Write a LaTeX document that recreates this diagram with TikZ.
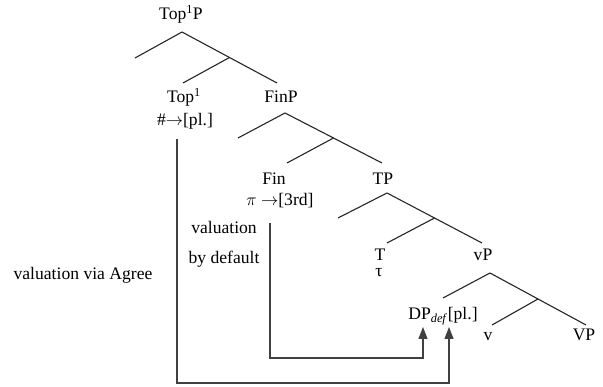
\documentclass[tikz,border=0pt]{standalone}
\usepackage{fontspec}
\setmainfont{Liberation Serif}
\usetikzlibrary{arrows.meta, positioning, calc}

\begin{document}
\begin{tikzpicture}[
  x=1pt, y=-1pt,
  every node/.style={font=\fontsize{17.6}{21}\selectfont, inner sep=0pt, anchor=base},
  branch/.style={line width=1.1pt, black!85},
  varr/.style={-{Triangle[length=12pt, width=9pt]}, line width=1.3pt, black!75},
  note/.style={align=center, font=\fontsize{17.6}{30}\selectfont},
]
\useasboundingbox (0,0) rectangle (603,387);

%% ── Top1P ─────────────────────────────────────────────────────────────
\node (toppP) at (181,20) {Top\textsuperscript{1}P};
\coordinate (topA) at (182,32);
\coordinate (topL) at (135,58);
\coordinate (topR) at (277,83);
\coordinate (topM) at ($(topA)!0.5!(topR)$);
\coordinate (topD) at (183,83);
\draw[branch] (topL) -- (topA) -- (topR);
\draw[branch] (topM) -- (topD);

\node (topone) at (184,103) {Top\textsuperscript{1}};
\node (plval)  at (185,126) {\#$\rightarrow$[pl.]};
\node (finP)   at (281,103) {FinP};

%% ── FinP ──────────────────────────────────────────────────────────────
\coordinate (finA) at (285,113);
\coordinate (finL) at (238,138);
\coordinate (finR) at (382,163);
\coordinate (finM) at ($(finA)!0.5!(finR)$);
\coordinate (finD) at (287,163);
\draw[branch] (finL) -- (finA) -- (finR);
\draw[branch] (finM) -- (finD);

\node (fin)   at (274,185) {Fin};
\node (pival) at (280,206) {$\pi$ $\rightarrow$[3rd]};
\node (tP)    at (383,185) {TP};

%% ── TP ────────────────────────────────────────────────────────────────
\coordinate (tpA) at (387,193);
\coordinate (tpL) at (338,218);
\coordinate (tpR) at (482,243);
\coordinate (tpM) at ($(tpA)!0.5!(tpR)$);
\coordinate (tpD) at (387,243);
\draw[branch] (tpL) -- (tpA) -- (tpR);
\draw[branch] (tpM) -- (tpD);

\node (tee) at (380,261) {T};
\node (tau) at (379,277) {τ};
\node (vP)  at (483,261) {vP};

%% ── vP ────────────────────────────────────────────────────────────────
\coordinate (vpA) at (490,273);
\coordinate (vpL) at (443,298);
\coordinate (vpR) at (586,325);
\coordinate (vpM) at ($(vpA)!0.5!(vpR)$);
\coordinate (vpD) at (492,325);
\draw[branch] (vpL) -- (vpA) -- (vpR);
\draw[branch] (vpM) -- (vpD);

\node (dp)  at (443,320) {DP\textsubscript{\textit{def}}[pl.]};
\node (vee) at (488,341) {v};
\node (VP)  at (584,341) {VP};

%% ── LABELS ────────────────────────────────────────────────────────────
\node (agree) at (83,280) {valuation via Agree};
\node[note] (deflt) at (224,264) {valuation\\by default};

%% ── VALUATION ARROWS ──────────────────────────────────────────────────
\coordinate (defltS) at (270,223);
\coordinate (defltC) at (423,358);
\coordinate (dpTipA) at (423,327);
\coordinate (agreeS) at (177,139);
\coordinate (agreeC) at (449,383);
\coordinate (dpTipB) at (449,327);

%% Fin → DP (by default)
\draw[varr] (defltS) |- (defltC) -- (dpTipA);

%% Top1 → DP (via Agree)
\draw[varr] (agreeS) |- (agreeC) -- (dpTipB);

\end{tikzpicture}
\end{document}
